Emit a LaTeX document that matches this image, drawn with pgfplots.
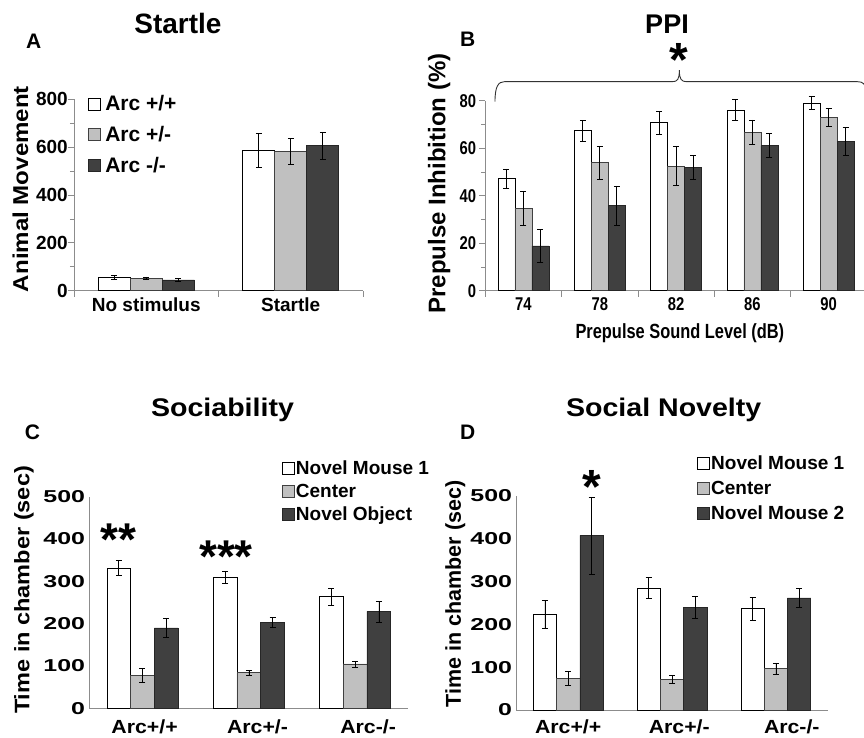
\documentclass[border=0pt]{standalone}
\usepackage{pgfplots}
\pgfplotsset{compat=1.18}
\usepackage{pgfplotstable}
\usepackage{fontspec}
\setmainfont{Liberation Sans}
\newfontfamily\fnar{Liberation Sans}[FakeStretch=0.8]
\newfontfamily\fwide{Liberation Sans}[FakeStretch=1.12]
\newfontfamily\fwider{Liberation Sans}[FakeStretch=1.45]
\newcommand\fs[1]{\fontsize{#1bp}{#1bp}\selectfont\bfseries}
\definecolor{axgray}{RGB}{140,140,140}
\definecolor{barlight}{RGB}{192,192,192}
\definecolor{bardark}{RGB}{64,64,64}

\pgfplotstableread{
x wt wte het hete ko koe
0 56 8 53 5 45 5
1 587 71 581 54 607 56
}\dataA
\pgfplotstableread{
x wt wte het hete ko koe
0 47.2 4.1 34.7 7.2 18.9 7.0
1 67.4 4.3 53.9 7.0 35.8 8.3
2 70.7 4.8 52.5 8.2 51.8 5.1
3 76.1 4.3 66.7 5.2 61.1 5.0
4 79.0 2.7 73.0 3.6 62.9 5.8
}\dataB
\pgfplotstableread{
x nm cen obj objerr nme cene
0 332 78 190 22 17 16
1 310 84 203 11 14 6
2 264 105 229 25 20 7
}\dataC
\pgfplotstableread{
x nm cen nmb nmberr nme cene
0 223 74 408 90 33 16
1 285 72 240 26 25 8.5
2 237 97 262 23 27 13
}\dataD

\pgfplotsset{
  sq/.style={legend image code/.code={\draw[##1] (0bp,-6bp) rectangle (12bp,6bp);}},
  errs/.style={error bars/y dir=both, error bars/y explicit,
    error bars/error bar style={black, line width=0.6bp},
    error bars/error mark options={rotate=90, mark size=3bp, black, line width=0.6bp}},
  b1/.style={fill=white, draw=black, line width=0.6bp, sq, errs},
  b2/.style={fill=barlight, draw=black!75, line width=0.6bp, sq, errs},
  b3/.style={fill=bardark, draw=black!85, line width=0.6bp, sq, errs},
  base/.style={
    scale only axis, ybar=0pt, ymin=0, clip=false,
    axis lines*=left, axis line style={draw=axgray, line width=0.8bp, -},
    tick align=outside, tick style={draw=axgray, line width=0.8bp},
    major tick length=6bp, minor tick length=4bp,
    /pgf/number format/assume math mode=true,
    legend cell align=left,
  },
}

\begin{document}
\begin{tikzpicture}
\useasboundingbox (0,0) rectangle (864bp,738bp);

% ---------- A ----------
\begin{axis}[base,
  at={(74bp,447.3bp)}, anchor=south west, width=289bp, height=191.4bp,
  xmin=-0.5, xmax=1.5, ymax=800, bar width=32bp,
  ytick={0,200,...,800}, minor ytick={100,300,500,700},
  yticklabel style={font=\fs{19}, anchor=east, inner sep=0pt, xshift=-0bp},
  xtick={-0.5,0.5,1.5}, xticklabels={,,},
  extra x ticks={0,1}, extra x tick labels={No stimulus,Startle},
  extra x tick style={major tick length=0pt},
  xticklabel style={font=\fs{19}, anchor=north, inner sep=0pt, yshift=-7bp},
  ylabel={Animal Movement},
  ylabel style={at={(axis description cs:-0.185,0.531)}, anchor=center, font=\fwide\fs{21.5}},
  legend style={at={(axis description cs:0.0484,1.02)}, anchor=north west, draw=none, fill=none,
    font=\fs{21}, row sep=14bp, inner sep=0pt, nodes={inner xsep=4.5bp, inner ysep=0pt}},
]
\addplot[b1] table[x=x, y=wt, y error=wte] {\dataA};
\addplot[b2] table[x=x, y=het, y error=hete] {\dataA};
\addplot[b3] table[x=x, y=ko, y error=koe] {\dataA};
\legend{Arc +/+, Arc +/-, Arc -/-}
\end{axis}

% ---------- B ----------
\begin{axis}[base,
  at={(485.3bp,447.3bp)}, anchor=south west, width=381.5bp, height=190bp,
  xmin=-0.5, xmax=4.5, ymax=80, bar width=17bp,
  ytick={0,20,...,80}, minor ytick={10,30,50,70},
  yticklabel style={font=\fnar\fs{18.5}, anchor=east, inner sep=0pt, xshift=-3bp},
  xtick={-0.5,0.5,...,4.5}, xticklabels={,,,,,},
  extra x ticks={0,1,2,3,4}, extra x tick labels={74,78,82,86,90},
  extra x tick style={major tick length=0pt},
  xticklabel style={font=\fnar\fs{18.5}, anchor=north, inner sep=0pt, yshift=-7bp},
  xlabel={Prepulse Sound Level (dB)},
  xlabel style={at={(axis description cs:0.51,-0.223)}, anchor=center, font=\fnar\fs{20.5}},
  ylabel={Prepulse Inhibition (\%)},
  ylabel style={at={(axis description cs:-0.121,0.564)}, anchor=center, font=\fs{24}},
]
\addplot[b1] table[x=x, y=wt, y error=wte] {\dataB};
\addplot[b2] table[x=x, y=het, y error=hete] {\dataB};
\addplot[b3] table[x=x, y=ko, y error=koe] {\dataB};
\draw[black!80, line width=0.9bp] (axis cs:-0.373,79.6) .. controls (axis cs:-0.373,86) and (axis cs:-0.33,88) .. (axis cs:-0.25,88)
  -- (axis cs:1.95,88) .. controls (axis cs:2.02,88) and (axis cs:2.043,89) .. (axis cs:2.043,92.9)
  .. controls (axis cs:2.043,89) and (axis cs:2.07,88) .. (axis cs:2.14,88)
  -- (axis cs:4.38,88) .. controls (axis cs:4.45,88) and (axis cs:4.48,87) .. (axis cs:4.49,84.5);
\node[anchor=base, inner sep=0pt, font=\fs{48}] at (axis cs:2.04,90.3) {*};
\end{axis}

% ---------- C ----------
\begin{axis}[base,
  at={(89.3bp,29.7bp)}, anchor=south west, width=319bp, height=211.6bp,
  xmin=-0.5, xmax=2.5, ymax=500, bar width=23.7bp,
  ytick={0,100,...,500}, major tick length=0pt,
  yticklabel style={font=\fwider\fs{17.2}, anchor=east, inner sep=0pt, xshift=-4bp},
  xtick={0.02,1.082,2.122}, xticklabels={Arc+/+,Arc+/-,Arc-/-},
  xticklabel style={font=\fwide\fs{19}, anchor=north, inner sep=0pt, yshift=-11.5bp},
  ylabel={Time in chamber (sec)},
  ylabel style={at={(axis description cs:-0.205,0.559)}, anchor=center, font=\fwide\fs{21}},
  legend style={at={(axis description cs:0.603,1.17)}, anchor=north west, draw=none, fill=none,
    font=\fs{19}, row sep=8bp, inner sep=0pt, nodes={inner xsep=1.5bp, inner ysep=0pt}},
]
\addplot[b1] table[x=x, y=nm, y error=nme] {\dataC};
\addplot[b2] table[x=x, y=cen, y error=cene] {\dataC};
\addplot[b3] table[x=x, y=obj, y error=objerr] {\dataC};
\legend{Novel Mouse 1, Center, Novel Object}
\node[anchor=base, inner sep=0pt, font=\fs{46}] at (axis cs:-0.227,362) {**};
\node[anchor=base, inner sep=0pt, font=\fs{46}] at (axis cs:0.786,322) {***};
\end{axis}

% ---------- D ----------
\begin{axis}[base,
  at={(516.3bp,28bp)}, anchor=south west, width=311.4bp, height=214bp,
  xmin=-0.5, xmax=2.5, ymax=500, bar width=23.3bp,
  ytick={0,100,...,500}, major tick length=0pt,
  yticklabel style={font=\fwider\fs{17.2}, anchor=east, inner sep=0pt, xshift=-4bp},
  xtick={0,1.07,2.154}, xticklabels={Arc+/+,Arc+/-,Arc-/-},
  xticklabel style={font=\fwide\fs{19}, anchor=north, inner sep=0pt, yshift=-10bp},
  ylabel={Time in chamber (sec)},
  ylabel style={at={(axis description cs:-0.196,0.542)}, anchor=center, font=\fs{21.5}},
  legend style={at={(axis description cs:0.580,1.19)}, anchor=north west, draw=none, fill=none,
    font=\fs{19}, row sep=10bp, inner sep=0pt, nodes={inner xsep=1.5bp, inner ysep=0pt}},
]
\addplot[b1] table[x=x, y=nm, y error=nme] {\dataD};
\addplot[b2] table[x=x, y=cen, y error=cene] {\dataD};
\addplot[b3] table[x=x, y=nmb, y error=nmberr] {\dataD};
\legend{Novel Mouse 1, Center, Novel Mouse 2}
\node[anchor=base, inner sep=0pt, font=\fs{48}] at (axis cs:0.229,483) {*};
\end{axis}

% titles and panel letters
\node[anchor=base, inner sep=0pt, font=\fs{28}] at (178bp,704.7bp) {Startle};
\node[anchor=base, inner sep=0pt, font=\fs{27}] at (667bp,704.7bp) {PPI};
\node[anchor=base, inner sep=0pt, font=\fwide\fs{25.5}] at (222.5bp,321.3bp) {Sociability};
\node[anchor=base, inner sep=0pt, font=\fwide\fs{25.5}] at (663.7bp,321.3bp) {Social Novelty};
\node[anchor=base, inner sep=0pt, font=\fs{21}] at (33.8bp,689.7bp) {A};
\node[anchor=base, inner sep=0pt, font=\fs{21}] at (467.8bp,691.3bp) {B};
\node[anchor=base, inner sep=0pt, font=\fs{21}] at (32.5bp,298bp) {C};
\node[anchor=base, inner sep=0pt, font=\fs{21}] at (467.8bp,298bp) {D};
\end{tikzpicture}
\end{document}
